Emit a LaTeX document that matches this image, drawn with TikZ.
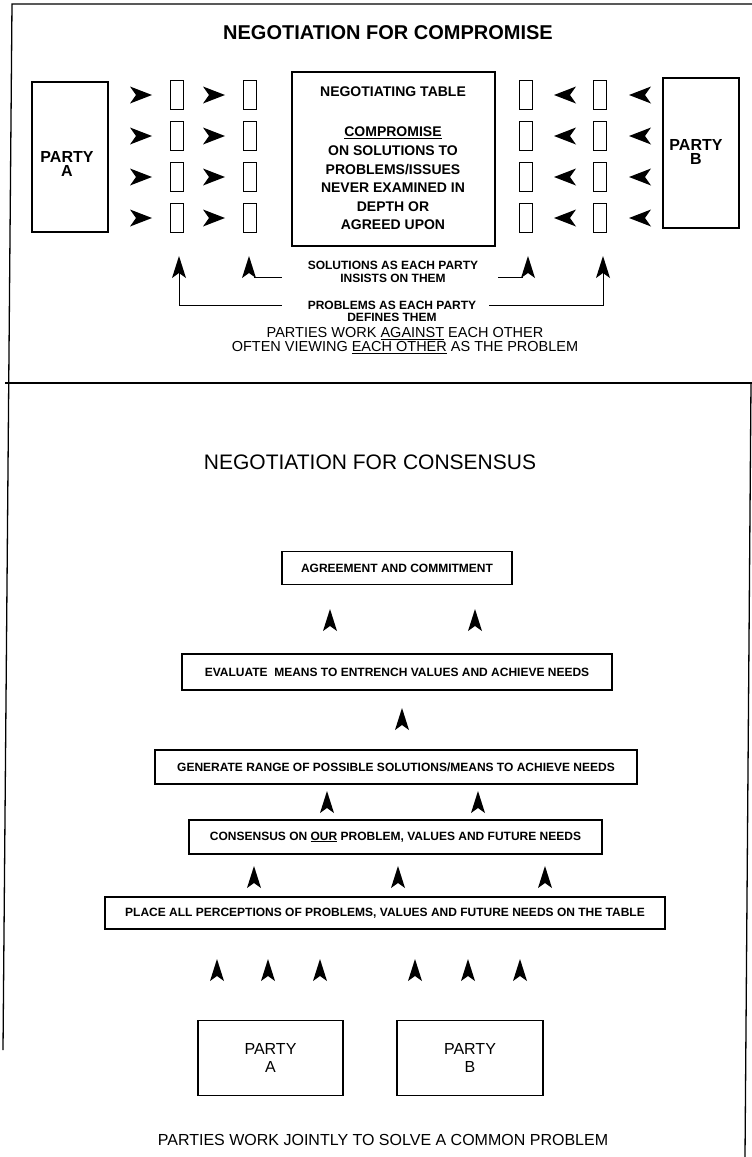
\documentclass[tikz,border=0pt]{standalone}
\usepackage{fontspec}
\setmainfont{Liberation Sans}
\newcommand\fsz[2]{\fontsize{#1}{#2}\selectfont}
\begin{document}
\begin{tikzpicture}[x=1pt,y=-1pt,
  box/.style={draw, line width=1.1pt, inner sep=0pt},
  slot/.style={draw, line width=1pt, inner sep=0pt, minimum width=13pt, minimum height=29pt},
  boxtext/.style={font=\fsz{12}{14}\bfseries},
  uphead/.pic={\fill (0,-11) -- (7,11) -- (0,6) -- (-7,11) -- cycle;},
  righthead/.pic={\fill (11,0) -- (-11,-8.5) -- (-5,0) -- (-11,8.5) -- cycle;},
  lefthead/.pic={\fill (-11,0) -- (11,-8.5) -- (5,0) -- (11,8.5) -- cycle;},
  link/.style={line width=1pt}
]
\useasboundingbox (0,0) rectangle (752,1157);

% frame and divider
\draw[line width=1.3pt] (3,1050) -- (12,4) -- (752,4);
\draw[line width=1.3pt] (751,383) -- (745,1157);
\draw[line width=2.6pt] (5,383) -- (752,383);

% ---------- negotiation for compromise ----------
\node[font=\fsz{20}{24}\bfseries] (t1) at (388,33) {NEGOTIATION FOR COMPROMISE};

\node[box, minimum width=76pt, minimum height=150pt] (pa) at (70,157) {};
\node[font=\fsz{16}{14}\bfseries, align=center] (pat) at (67,164) {PARTY\\A};
\node[box, minimum width=76pt, minimum height=150pt] (pb) at (701,153) {};
\node[font=\fsz{16}{14}\bfseries, align=center] (pbt) at (696,152) {PARTY\\B};

\node[box, minimum width=203pt, minimum height=174pt] (table) at (393.5,159) {};
\node[font=\fsz{14}{16}\bfseries] (tablet) at (393,92) {NEGOTIATING TABLE};
\node[font=\fsz{14}{18.6}\bfseries, align=center] (tableb) at (393,178.5)
  {\underline{COMPROMISE}\\ON SOLUTIONS TO\\PROBLEMS/ISSUES\\NEVER EXAMINED IN\\DEPTH OR\\AGREED UPON};

\foreach \r/\y in {1/95,2/136,3/177,4/218}{
  \node[slot] (s1\r) at (176.5,\y) {};
  \node[slot] (s2\r) at (250,\y) {};
  \node[slot] (s3\r) at (526,\y) {};
  \node[slot] (s4\r) at (599.5,\y) {};
  \pic at (141,\y) {righthead};
  \pic at (214,\y) {righthead};
  \pic at (565,\y) {lefthead};
  \pic at (640,\y) {lefthead};
}

% rising arrows below the slots
\coordinate (v1) at (179,267);
\coordinate (v2) at (249,267);
\coordinate (v3) at (528,267);
\coordinate (v4) at (603,267);
\foreach \v in {v1,v2,v3,v4}{\pic at (\v) {uphead};}
\coordinate (b1) at (179,305);
\coordinate (b4) at (603,305);
\coordinate (bl) at (282,305);
\coordinate (br) at (489,305);
\coordinate (sl) at (282,277);
\coordinate (sr) at (498,277);
\draw[link] (v1) -- (b1) -- (bl);
\draw[link] (v4) -- (b4) -- (br);
\draw[link] ([xshift=5pt]v2 |- sl) -- (sl);
\draw[link] (sr) -- ([xshift=-5pt]v3 |- sr);

\node[font=\fsz{12}{13}\bfseries, align=center] (sol) at (393,272)
  {SOLUTIONS AS EACH PARTY\\INSISTS ON THEM};
\node[font=\fsz{12}{12}\bfseries, align=center] (prob) at (392,311)
  {PROBLEMS AS EACH PARTY\\DEFINES THEM};
\node[font=\fsz{14.5}{14}, align=center] (against) at (405,341)
  {PARTIES WORK \underline{AGAINST} EACH OTHER\\OFTEN VIEWING \underline{EACH OTHER} AS THE PROBLEM};

% ---------- negotiation for consensus ----------
\node[font=\fsz{21}{24}] (t2) at (370,462) {NEGOTIATION FOR CONSENSUS};

\node[box, boxtext, minimum width=230pt, minimum height=33pt] (agree) at (397,568)
  {AGREEMENT AND COMMITMENT};
\node[box, boxtext, minimum width=430pt, minimum height=36pt] (eval) at (397,672)
  {EVALUATE\ \ MEANS TO ENTRENCH VALUES AND ACHIEVE NEEDS};
\node[box, boxtext, minimum width=482pt, minimum height=34pt] (gen) at (396,767)
  {GENERATE RANGE OF POSSIBLE SOLUTIONS/MEANS TO ACHIEVE NEEDS};
\node[box, boxtext, minimum width=413pt, minimum height=34pt] (cons) at (395.5,837)
  {CONSENSUS ON \underline{OUR} PROBLEM, VALUES AND FUTURE NEEDS};
\node[box, boxtext, minimum width=560pt, minimum height=32pt] (place) at (385,913)
  {PLACE ALL PERCEPTIONS OF PROBLEMS, VALUES AND FUTURE NEEDS ON THE TABLE};
\node[box, minimum width=145pt, minimum height=75pt, font=\fsz{16}{18}, align=center] (qa) at (270.5,1058)
  {PARTY\\A};
\node[box, minimum width=146pt, minimum height=75pt, font=\fsz{16}{18}, align=center] (qb) at (470,1058)
  {PARTY\\B};

\foreach \x/\y in {330/620, 475/620, 402/719, 327/802, 478/802,
                   254/877, 398/877, 545/877,
                   217/970, 268/970, 320/970, 415/970, 468/970, 520/970}{
  \pic at (\x,\y) {uphead};
}

\node[font=\fsz{16}{18}] (joint) at (383,1140)
  {PARTIES WORK JOINTLY TO SOLVE A COMMON PROBLEM};
\end{tikzpicture}
\end{document}
